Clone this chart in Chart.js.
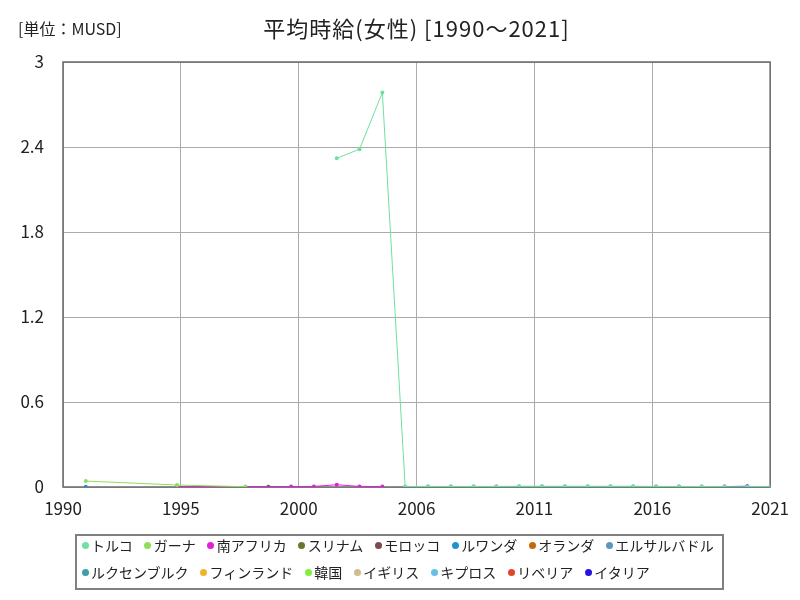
<!DOCTYPE html>
<html lang="ja">
<head>
<meta charset="utf-8">
<title>平均時給(女性)</title>
<script src="https://cdn.jsdelivr.net/npm/chart.js@4.4.1/dist/chart.umd.min.js"></script>
<style>
body { margin: 0; background: #fff; font-family: "Noto Sans CJK JP", sans-serif; color: #222; }
#wrap { position: relative; width: 800px; height: 600px; overflow: hidden; }
#myChart1 { position: absolute; left: 0; top: 0; }
#unit { position: absolute; left: 18px; top: 20px; font-size: 16px; line-height: 16px; white-space: nowrap; }
#title { position: absolute; left: 0; top: 16px; width: 833px; text-align: center; font-size: 22px; line-height: 22px; letter-spacing: 1px; white-space: nowrap; }
#legend { position: absolute; left: 75px; top: 534px; width: 649px; height: 56px; box-sizing: border-box;
          border: 2px solid #808080; padding: 0 0 0 4.5px; display: flex; flex-wrap: wrap; column-gap: 11.5px; row-gap: 8px; align-content: flex-start; }
.item { display: flex; align-items: center; height: 19px; font-size: 14px; line-height: 19px; white-space: nowrap; }
.dot { width: 7px; height: 7px; border-radius: 50%; margin-right: 2.5px; flex: none; }
</style>
</head>
<body>
<div id="wrap">
  <canvas id="myChart1" width="800" height="600"></canvas>
  <div id="unit">[単位：MUSD]</div>
  <div id="title">平均時給(女性) [1990〜2021]</div>
  <div id="legend"></div>
</div>
<script>
//------------------ データ ------------------//
// 年 (1990〜2021)
const YEARS = [1990, 1991, 1992, 1993, 1994, 1995, 1996, 1997, 1998, 1999,
               2000, 2001, 2002, 2003, 2004, 2005, 2006, 2007, 2008, 2009,
               2010, 2011, 2012, 2013, 2014, 2015, 2016, 2017, 2018, 2019,
               2020, 2021]
// x軸ラベル
const X_TICK_LABELS = ['1990', '1995', '2000', '2006', '2011', '2016', '2021']
// y軸目盛
const Y_TICKS = [0, 0.6, 1.2, 1.8, 2.4, 3]

// 国名
const COUNTRIES = ['トルコ', 'ガーナ', '南アフリカ', 'スリナム', 'モロッコ', 'ルワンダ', 'オランダ', 'エルサルバドル',
                   'ルクセンブルク', 'フィンランド', '韓国', 'イギリス', 'キプロス', 'リベリア', 'イタリア']
// 色
const COLORS = ['#6fe0a2', '#8ee05a', '#e020d8', '#66782e', '#7a4a4c', '#2390d0', '#c2690f', '#5a98c0',
                '#3f9fa6', '#f0b42a', '#80f040', '#d4bc90', '#66c0e2', '#e04628', '#2412e6']

// 値 (null = データなし)
const _ = null
const TURKEY      = [_, _, _, _, _, _, _, _, _, _, _, _, 2.32, 2.385, 2.785, 0.004, 0.004, 0.004, 0.004, 0.004, 0.005, 0.005, 0.005, 0.005, 0.005, 0.005, 0.004, 0.004, 0.003, 0.002, 0.002, 0.002]
const GHANA       = [_, 0.042, _, _, _, 0.014, _, _, 0.002, _, _, _, _, _, _, _, _, _, _, _, _, _, _, _, _, _, _, _, _, _, _, _]
const S_AFRICA    = [_, _, _, _, _, 0.003, _, _, _, _, 0.003, 0.004, 0.016, 0.004, 0.003, _, _, _, _, _, _, _, _, _, _, _, _, _, _, _, _, _]
const SURINAME    = [_, _, _, _, _, _, _, _, 0.002, _, _, _, _, _, _, _, _, _, _, _, _, _, _, _, _, _, _, _, _, _, _, _]
const MOROCCO     = [_, _, _, _, _, _, _, _, _, 0.002, _, _, _, _, _, _, _, _, _, _, _, _, _, _, _, _, _, _, _, _, _, _]
const RWANDA      = [_, 0.001, _, _, _, _, _, _, _, _, _, _, _, _, _, _, _, _, _, _, _, _, _, _, _, _, _, _, _, _, _, _]
const NETHERLANDS = [_, _, _, _, _, _, _, _, _, _, _, _, _, _, _, _, _, _, _, _, _, 0.002, _, _, _, _, _, _, _, _, _, _]
const EL_SALVADOR = [_, _, _, _, _, _, _, _, _, _, _, _, _, _, _, _, _, _, _, 0.002, 0.002, _, _, _, _, _, _, _, _, _, _, _]
const LUXEMBOURG  = [_, _, _, _, _, _, _, _, _, _, _, _, _, _, _, _, 0.003, 0.003, 0.003, 0.003, 0.003, 0.003, 0.003, 0.003, 0.003, 0.003, 0.003, 0.003, 0.003, _, _, _]
const FINLAND     = [_, _, _, _, _, _, _, _, _, _, _, _, _, _, _, _, _, _, _, _, _, _, _, 0.002, _, _, _, _, _, _, _, _]
const KOREA       = [_, _, _, _, _, _, _, _, _, _, _, _, _, _, _, _, _, _, 0.001, _, _, _, _, _, _, _, _, _, _, _, _, _]
const UK          = [_, _, _, _, _, _, _, _, _, _, _, _, _, _, _, _, _, _, _, _, _, _, _, _, _, 0.002, _, _, _, _, _, _]
const CYPRUS      = [_, _, _, _, _, _, _, _, _, _, _, _, _, _, _, _, _, _, _, _, _, _, _, _, _, _, 0.002, _, _, _, _, _]
const LIBERIA     = [_, _, _, _, _, _, _, _, _, _, _, _, _, _, _, _, _, _, _, _, _, _, _, _, _, _, _, 0.001, _, _, _, _]
const ITALY       = [_, _, _, _, _, _, _, _, _, _, _, _, _, _, _, _, _, _, _, _, _, _, _, _, _, _, _, _, _, 0.003, 0.005, _]
const SERIES = [TURKEY, GHANA, S_AFRICA, SURINAME, MOROCCO, RWANDA, NETHERLANDS, EL_SALVADOR,
                LUXEMBOURG, FINLAND, KOREA, UK, CYPRUS, LIBERIA, ITALY]
//-------------------------------------------//

const CHART_ID = 'myChart1'
const FONT = '"Noto Sans CJK JP", sans-serif'

/*--------------------------------------------------------------------
グラフ枠を描くプラグイン
--------------------------------------------------------------------*/
const frame_plugin = {
    id: 'frame',
    beforeDatasetsDraw(chart){
        const a = chart.chartArea
        const ctx = chart.ctx
        ctx.save()
        ctx.strokeStyle = '#6a6a6a'
        ctx.lineWidth = 1.5
        ctx.strokeRect(a.left, a.top, a.right - a.left, a.bottom - a.top)
        ctx.restore()
    }
}

plotChart(CHART_ID)
makeLegend('legend')

/*--------------------------------------------------------------------
グラフをプロットする関数
--------------------------------------------------------------------*/
function plotChart(chart_id){
    const datasets = COUNTRIES.map(function(name, i){
        return {
            label: name,
            data: SERIES[i],
            borderColor: COLORS[i],
            backgroundColor: COLORS[i],
            borderWidth: 1,
            pointRadius: 2,
            pointBorderWidth: 0,
            spanGaps: true,
            tension: 0,
        }
    })
    const ctx = document.getElementById(chart_id)
    window.myChart = new Chart(ctx, {
        type: 'line',
        data: { labels: YEARS, datasets: datasets },
        plugins: [frame_plugin],
        options: {
            responsive: false,
            animation: false,
            devicePixelRatio: 1,
            layout: { padding: { left: 0, right: 28, top: 62, bottom: 83 } },
            plugins: { legend: { display: false }, title: { display: false }, tooltip: { enabled: false } },
            scales: {
                x: {
                    type: 'linear',
                    min: YEARS[0],
                    max: YEARS[YEARS.length - 1],
                    border: { display: false },
                    grid: { color: '#ababab', lineWidth: 1, drawTicks: false },
                    afterBuildTicks(scale){
                        const n = X_TICK_LABELS.length
                        scale.ticks = X_TICK_LABELS.map(function(t, i){
                            return { value: scale.min + (scale.max - scale.min) * i / (n - 1) }
                        })
                    },
                    afterFit(scale){ scale.height = 30 },
                    ticks: {
                        padding: 11,
                        maxRotation: 0,
                        color: '#222',
                        font: { family: FONT, size: 17 },
                        callback: function(v, i){ return X_TICK_LABELS[i] }
                    }
                },
                y: {
                    min: 0,
                    max: 3,
                    border: { display: false },
                    grid: { color: '#ababab', lineWidth: 1, drawTicks: false },
                    afterBuildTicks(scale){
                        scale.ticks = Y_TICKS.map(function(v){ return { value: v } })
                    },
                    afterFit(scale){ scale.width = 63 },
                    ticks: {
                        padding: 19,
                        color: '#222',
                        font: { family: FONT, size: 17 },
                        callback: function(v){ return String(v) }
                    }
                }
            }
        }
    })
}

/*--------------------------------------------------------------------
凡例を作る関数
--------------------------------------------------------------------*/
function makeLegend(legend_id){
    const box = document.getElementById(legend_id)
    window.myChart.data.datasets.forEach(function(ds){
        const item = document.createElement('div')
        item.className = 'item'
        const dot = document.createElement('span')
        dot.className = 'dot'
        dot.style.background = ds.borderColor
        const txt = document.createElement('span')
        txt.textContent = ds.label
        item.appendChild(dot)
        item.appendChild(txt)
        box.appendChild(item)
    })
}
</script>
</body>
</html>
